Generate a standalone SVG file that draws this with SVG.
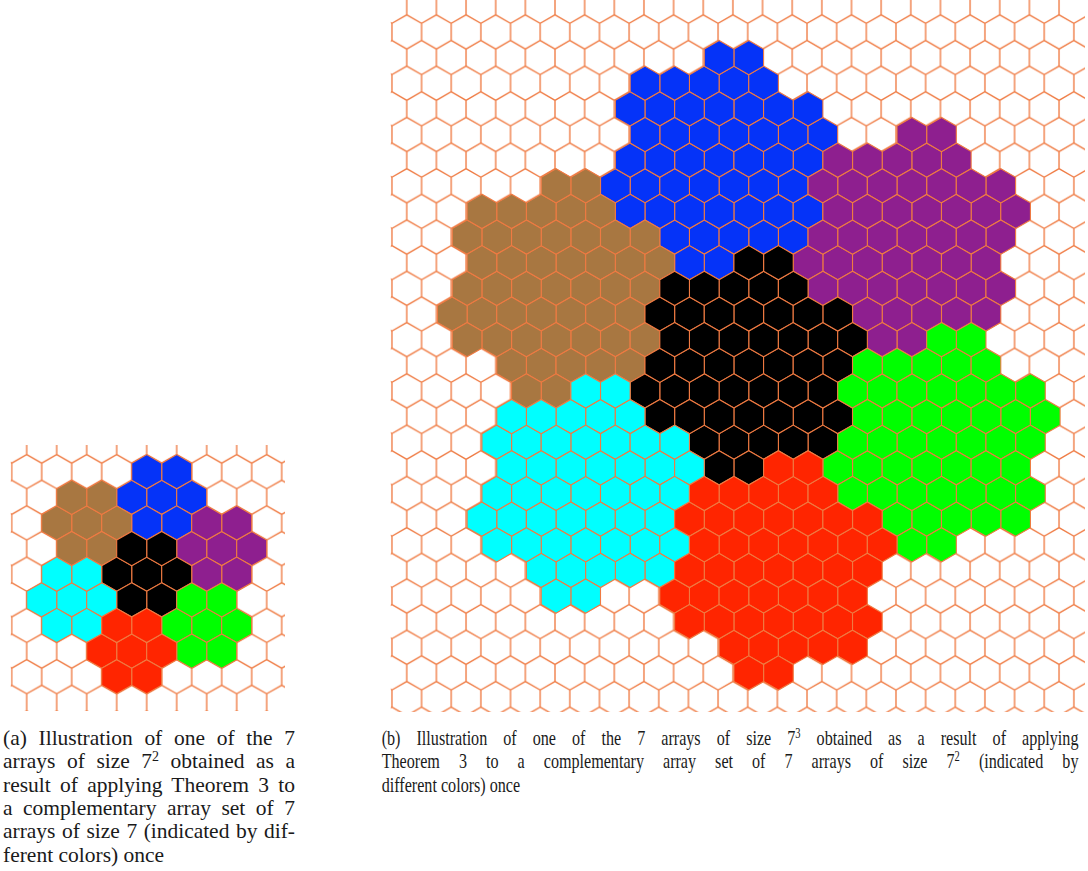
<svg xmlns="http://www.w3.org/2000/svg" xmlns:xlink="http://www.w3.org/1999/xlink" width="1088" height="871" viewBox="0 0 1088 871">
<style>
.h{stroke:#EF7A42;stroke-width:1.1}
.gl{fill:none;stroke:#EF7A42;stroke-width:1.35}
.bl{fill:#0533F8}.pu{fill:#8E1F8F}.br{fill:#A87741}.cy{fill:#00FFFF}.bk{fill:#000000}.gr{fill:#00FF00}.rd{fill:#FF2500}
.cap{font-family:"Liberation Serif","Times New Roman",serif;font-size:21.5px;fill:#1a1a1a}
</style>
<defs>
<pattern id="pb" patternUnits="userSpaceOnUse" x="555" y="185.8" width="29.65" height="51.28">
<path class="gl" d="M14.825,0V8.547L0,17.093M14.825,8.547L29.65,17.093M0,17.093V34.187M29.65,17.093V34.187M0,34.187L14.825,42.733L29.65,34.187M14.825,42.733V51.28"/>
</pattern>
<pattern id="pa" patternUnits="userSpaceOnUse" x="11.7" y="446.07" width="30" height="51.26">
<path class="gl" d="M15,0V8.543L0,17.087M15,8.543L30,17.087M0,17.087V34.173M30,17.087V34.173M0,34.173L15,42.717L30,34.173M15,42.717V51.26"/>
</pattern>
<path id="hb" class="h" d="M0,-17.093L14.825,-8.547L14.825,8.547L0,17.093L-14.825,8.547L-14.825,-8.547Z"/>
<path id="ha" class="h" d="M0,-17.087L15,-8.543L15,8.543L0,17.087L-15,8.543L-15,-8.543Z"/>
<g id="fb">
<use href="#hb"/><use href="#hb" x="29.65"/><use href="#hb" x="-29.65"/>
<use href="#hb" x="14.825" y="-25.64"/><use href="#hb" x="-14.825" y="-25.64"/>
<use href="#hb" x="14.825" y="25.64"/><use href="#hb" x="-14.825" y="25.64"/>
</g>
<g id="fa">
<use href="#ha"/><use href="#ha" x="30"/><use href="#ha" x="-30"/>
<use href="#ha" x="15" y="-25.63"/><use href="#ha" x="-15" y="-25.63"/>
<use href="#ha" x="15" y="25.63"/><use href="#ha" x="-15" y="25.63"/>
</g>
<g id="rg">
<use href="#fb"/>
<use href="#fb" x="14.825" y="-76.92"/>
<use href="#fb" x="74.125" y="-25.64"/>
<use href="#fb" x="59.3" y="51.28"/>
<use href="#fb" x="-14.825" y="76.92"/>
<use href="#fb" x="-74.125" y="25.64"/>
<use href="#fb" x="-59.3" y="-51.28"/>
</g>
</defs>
<rect width="1088" height="871" fill="#ffffff"/>
<g id="panel-a">
<rect x="10.8" y="445" width="274.2" height="266" fill="url(#pa)"/>
<g id="a-arrays">
<use href="#fa" class="bl" x="161.7" y="497.33"/>
<use href="#fa" class="br" x="86.7" y="522.96"/>
<use href="#fa" class="pu" x="221.7" y="548.59"/>
<use href="#fa" class="bk" x="146.7" y="574.22"/>
<use href="#fa" class="cy" x="71.7" y="599.85"/>
<use href="#fa" class="gr" x="206.7" y="625.48"/>
<use href="#fa" class="rd" x="131.7" y="651.11"/>
</g>
</g>
<g id="panel-b">
<rect x="390.8" y="0" width="694.2" height="712" fill="url(#pb)"/>
<g id="b-arrays">
<use href="#rg" class="bl" x="719.1" y="160.16"/>
<use href="#rg" class="pu" x="911.83" y="237.08"/>
<use href="#rg" class="br" x="556.03" y="288.36"/>
<use href="#rg" class="bk" x="748.75" y="365.28"/>
<use href="#rg" class="gr" x="941.48" y="442.2"/>
<use href="#rg" class="cy" x="585.68" y="493.48"/>
<use href="#rg" class="rd" x="778.4" y="570.4"/>
</g>
</g>
<g id="caption-a" class="cap">
<text x="3" y="745" word-spacing="6.4" textLength="292" lengthAdjust="spacing">(a) Illustration of one of the 7</text>
<text x="3" y="768.3" word-spacing="6.2" textLength="292" lengthAdjust="spacing">arrays of size 7<tspan dy="-7" font-size="14">2</tspan><tspan dy="7"> obtained as a</tspan></text>
<text x="3" y="791.6" word-spacing="4" textLength="292" lengthAdjust="spacing">result of applying Theorem 3 to</text>
<text x="3" y="814.9" word-spacing="5.2" textLength="292" lengthAdjust="spacing">a complementary array set of 7</text>
<text x="3" y="838.2" word-spacing="1.3" textLength="292" lengthAdjust="spacing">arrays of size 7 (indicated by dif-</text>
<text x="3" y="861.5">ferent colors) once</text>
</g>
<g id="caption-b" class="cap" transform="translate(381.7 0) scale(0.75 1)">
<text x="0" y="745" word-spacing="16" textLength="929" lengthAdjust="spacing">(b) Illustration of one of the 7 arrays of size 7<tspan dy="-7" font-size="14">3</tspan><tspan dy="7"> obtained as a result of applying</tspan></text>
<text x="0" y="768.5" word-spacing="20" textLength="929" lengthAdjust="spacing">Theorem 3 to a complementary array set of 7 arrays of size 7<tspan dy="-7" font-size="14">2</tspan><tspan dy="7"> (indicated by</tspan></text>
<text x="0" y="792">different colors) once</text>
</g>
</svg>
